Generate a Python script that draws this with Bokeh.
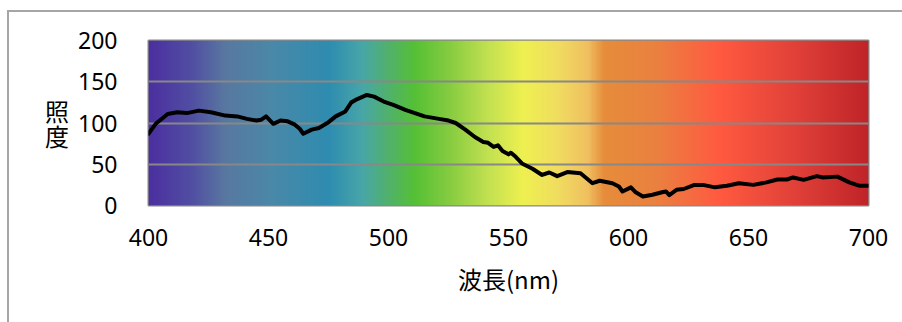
import numpy as np
from bokeh.plotting import figure
from bokeh.models import FixedTicker, Range1d
from bokeh.embed import file_html
from bokeh.resources import INLINE

# Measured illuminance spectrum
wavelength = [400, 403, 408, 412, 416, 421, 426, 432, 437, 441, 445, 447, 449, 452, 455,
              458, 461, 463, 464.5, 468, 471, 475, 478, 482, 484.5, 487, 491, 494, 498,
              502, 507, 511, 515, 521, 525, 528, 532, 536, 539.5, 541.5, 543.8, 545.6,
              547.5, 550, 551, 553, 555.6, 560, 564, 567, 570.3, 574.5, 580, 585, 588,
              593.3, 596, 597.5, 601, 603, 606, 610, 614, 615.6, 617, 620, 623, 627.5,
              631, 636, 641, 646, 652, 657.5, 662, 666, 668.6, 673, 678.5, 681, 687, 692,
              696, 700]
illuminance = [87, 99, 111, 113, 112, 115, 113, 109, 108, 105, 103, 104, 108, 99, 103,
               102, 98, 93, 87, 92, 94, 101, 108, 114, 125, 129, 134, 132, 126,
               122, 116, 112, 108, 105, 103, 100, 92, 83, 77, 76, 71, 73,
               66, 62, 64, 59, 51, 44.5, 37, 40, 35.6, 40.5, 39, 27, 30,
               27, 23, 17, 22, 16, 11, 13, 16, 17, 12.6, 19, 20, 25,
               25, 22, 24, 27, 25, 28, 31.5, 31.5, 34, 31, 35.6, 34, 35, 28,
               24, 24]

x_ticks = [400, 450, 500, 550, 600, 650, 700]
y_ticks = [0, 50, 100, 150, 200]
x_title = "波長(nm)"
y_title = "照\n度"

# Colour stops of the visible-spectrum backdrop (nm, colour)
stop_nm = [400, 418, 432, 451, 475, 489, 499, 511, 526, 541, 556, 571, 583, 590,
           612, 638, 670, 700]
stop_hex = ["#4B2FA0", "#514FA2", "#5878A0", "#4A88A8", "#2E8CB0", "#48A6A8",
            "#50B070", "#55C035", "#88CC40", "#C0E050", "#EEF050", "#F0DC60",
            "#F0C060", "#E68C3A", "#EA8040", "#FF5A40", "#E04038", "#C02428"]

# outer chart-area offset inside the window, border width, frame edges (window px)
OX, OY, BW = 7, 10, 2
W, H = 902 - OX, 322 - OY
CX, CY = OX + BW, OY + BW          # canvas origin in window pixels
FL, FR, FT, FB = 148 - CX, 866 - CX, 40 - CY, 203 - CY

p = figure(width=W, height=H, output_backend="svg", toolbar_location=None,
           x_range=Range1d(400, 700), y_range=Range1d(0, 200),
           min_border_left=FL, min_border_right=W - BW - FR,
           min_border_top=FT, min_border_bottom=H - BW - FB)
p.margin = (OY, 0, 0, OX)
p.styles = {"border-top": f"{BW}px solid #A6A6A6", "border-left": f"{BW}px solid #A6A6A6",
            "box-sizing": "border-box"}
p.background_fill_color = "white"
p.border_fill_color = "white"
p.outline_line_color = "#888888"
p.outline_line_width = 2

# spectrum backdrop as a 1-row RGBA image
cols = np.linspace(400, 700, 601)
rgb = np.array([[int(h[i:i + 2], 16) for i in (1, 3, 5)] for h in stop_hex], dtype=float)
img = np.zeros((1, len(cols)), dtype=np.uint32)
view = img.view(dtype=np.uint8).reshape((1, len(cols), 4))
for k in range(3):
    view[0, :, k] = np.interp(cols, stop_nm, rgb[:, k]).round().astype(np.uint8)
view[0, :, 3] = 255
p.image_rgba(image=[img], x=400, y=0, dw=300, dh=200, level="image")

p.line(wavelength, illuminance, line_color="black", line_width=4,
       line_join="round", line_cap="round")

# axes
for ax in (p.xaxis, p.yaxis):
    ax.axis_line_color = None
    ax.major_tick_line_color = None
    ax.minor_tick_line_color = None
    ax.major_label_text_font = "Noto Sans"
    ax.major_label_text_font_size = "23px"
    ax.major_label_text_color = "black"
    ax.axis_label_text_font = "Noto Sans CJK JP"
    ax.axis_label_text_font_size = "24px"
    ax.axis_label_text_font_style = "normal"
    ax.axis_label_text_color = "black"
p.xaxis.ticker = FixedTicker(ticks=x_ticks)
p.yaxis.ticker = FixedTicker(ticks=y_ticks)
p.xaxis.major_label_standoff = 17
p.yaxis.major_label_standoff = 25
p.xaxis.axis_label = x_title
p.xaxis.axis_label_standoff = 12
p.yaxis.axis_label = y_title
p.yaxis.axis_label_orientation = "horizontal"
p.yaxis.axis_label_text_line_height = 0.7
p.yaxis.axis_label_standoff = 6

p.xgrid.grid_line_color = None
p.ygrid.ticker = FixedTicker(ticks=[50, 100, 150])
p.ygrid.grid_line_color = "#888888"
p.ygrid.grid_line_width = 2

open("out.html", "w").write(file_html(p, INLINE))
